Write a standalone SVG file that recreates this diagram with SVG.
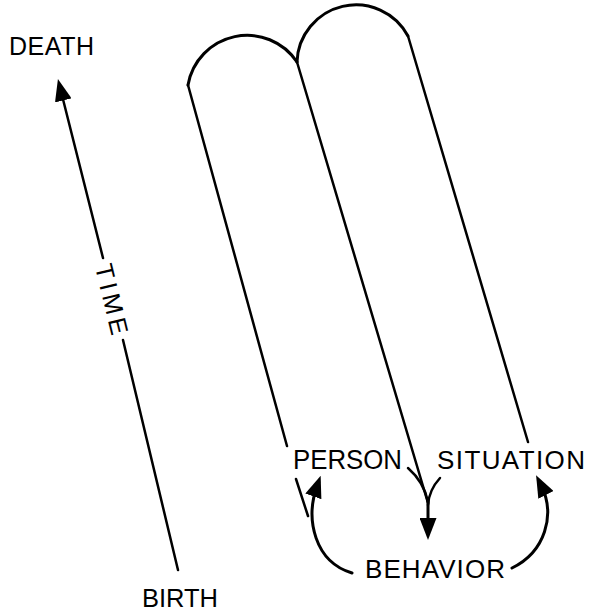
<svg xmlns="http://www.w3.org/2000/svg" width="590" height="614" viewBox="0 0 590 614">
  <style>
    .ln { fill: none; stroke: #000; stroke-width: 2.5; stroke-linecap: round; }
    .arc { fill: none; stroke: #000; stroke-width: 3; stroke-linecap: round; }
    .cv { fill: none; stroke: #000; stroke-width: 3; stroke-linecap: round; }
    .lbl { font-family: "Liberation Sans", Arial, sans-serif; fill: #000; }
  </style>
  <defs>
    <marker id="ah" viewBox="0 0 22 17" refX="11" refY="8.5" markerWidth="22" markerHeight="17" markerUnits="userSpaceOnUse" orient="auto">
      <path d="M0,0 L22,8.5 L0,17 z" fill="#000"/>
    </marker>
  </defs>
  <rect width="590" height="614" fill="#fff"/>

  <g id="tubes">
    <path class="arc" d="M188,85 A60,60 0 0 1 297,62"/>
    <path class="arc" d="M297,62 A59,59 0 0 1 408,36"/>
    <path class="ln" d="M188,85 L287,446"/>
    <path class="ln" d="M296,479 L308,516"/>
    <path class="ln" d="M297,62 L428,503"/>
    <path class="ln" d="M408,36 L528,442"/>
  </g>

  <g id="connectors">
    <path class="ln" d="M103,258 L60.6,89.7" marker-end="url(#ah)"/>
    <path class="ln" d="M123,340 L178,570"/>
    <path class="cv" d="M352,573 C315,562 305,520 317,486" marker-end="url(#ah)"/>
    <path class="cv" d="M512,568 C545,552 556,515 541,485" marker-end="url(#ah)"/>
    <path class="ln" d="M408,468 Q424,482 428,502"/>
    <path class="ln" d="M440,478 Q429,490 428,505"/>
    <path class="cv" d="M428,500 L428,529" marker-end="url(#ah)"/>
  </g>

  <g id="death"><text class="lbl" x="9" y="55" font-size="25" textLength="85">DEATH</text></g>
  <g id="birth"><text class="lbl" x="142" y="607" font-size="26" textLength="76" lengthAdjust="spacingAndGlyphs">BIRTH</text></g>
  <g id="time"><text class="lbl" font-size="25" text-anchor="middle" transform="translate(112,299) rotate(76.3)" x="0" y="9" textLength="72">TIME</text></g>
  <g id="person"><text class="lbl" x="293" y="469" font-size="27" textLength="109" lengthAdjust="spacingAndGlyphs">PERSON</text></g>
  <g id="situation"><text class="lbl" x="437" y="469" font-size="26" textLength="148">SITUATION</text></g>
  <g id="behavior"><text class="lbl" x="365" y="578" font-size="26" textLength="140">BEHAVIOR</text></g>
</svg>
